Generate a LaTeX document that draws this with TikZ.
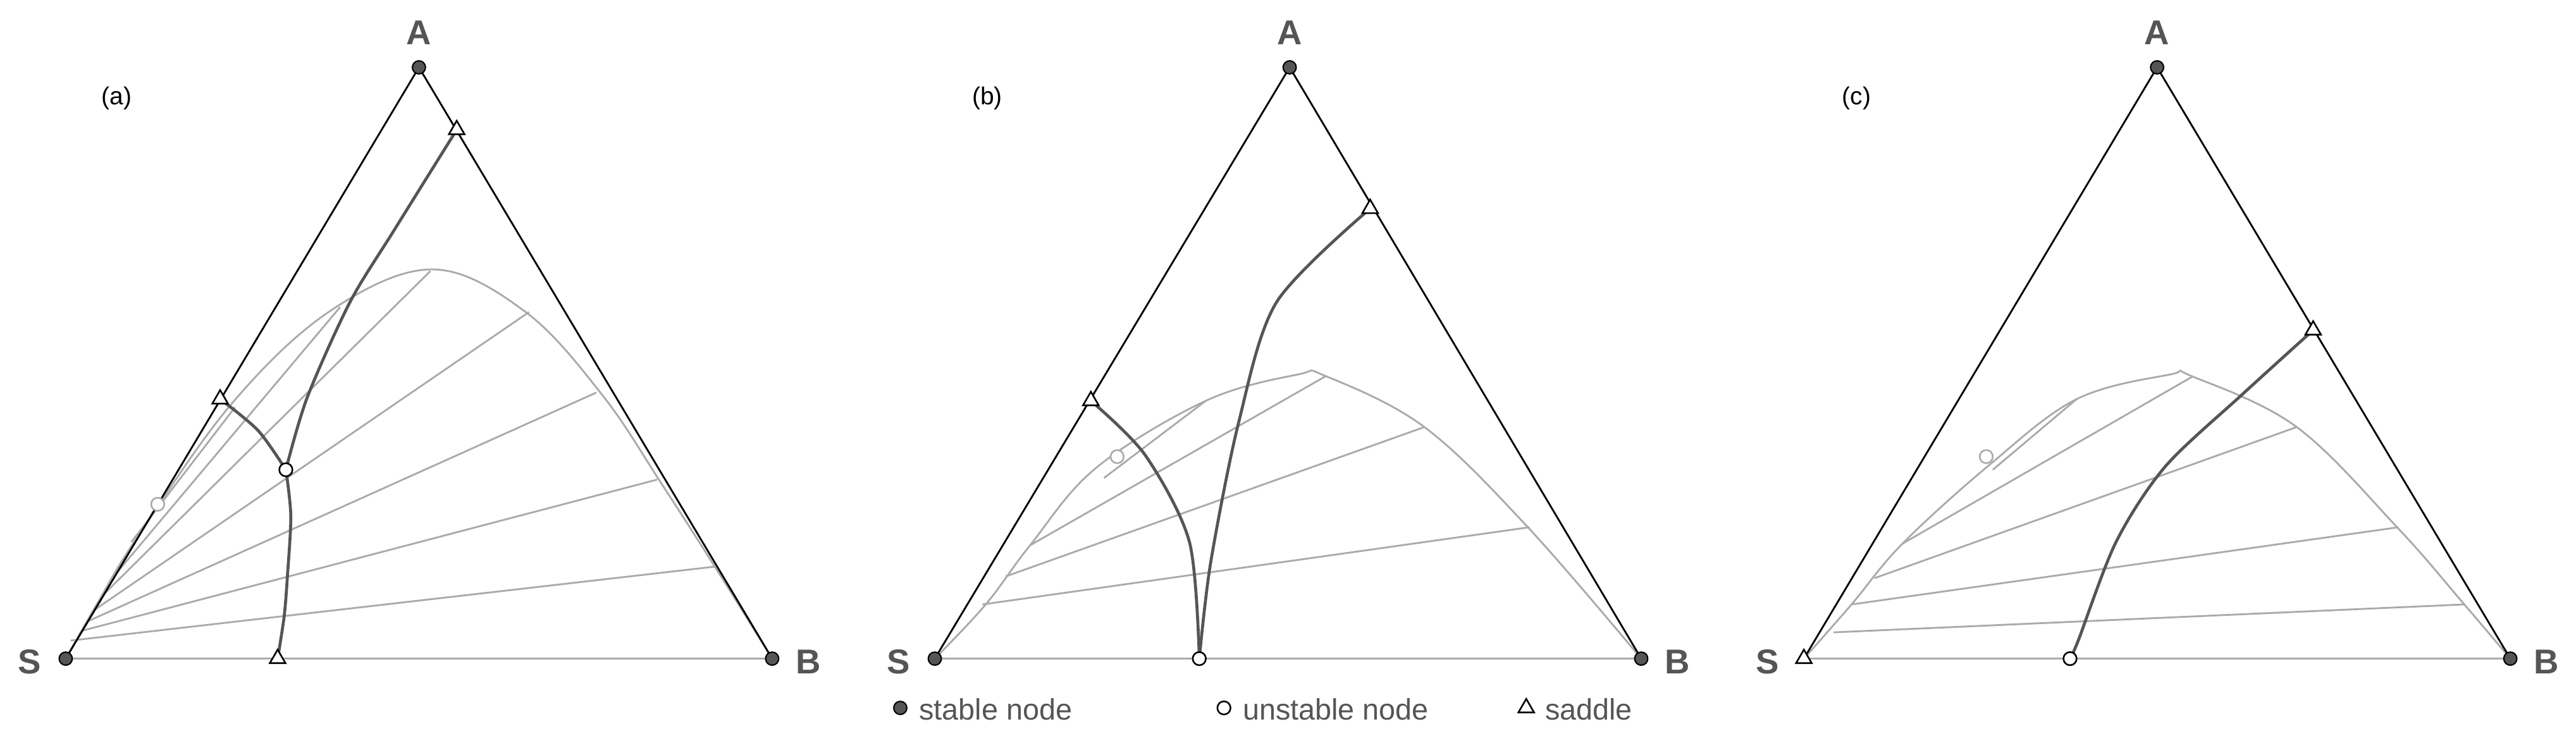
\documentclass[tikz,border=0pt]{standalone}
\usepackage{fontspec}
\setmainfont{Liberation Sans}
\usetikzlibrary{shapes.geometric}
\definecolor{dk}{HTML}{555555}
\definecolor{lg}{HTML}{AAAAAA}
\begin{document}
\begin{tikzpicture}[x=1pt,y=-1pt,
  edge/.style={black,line width=1.1pt},
  base/.style={lg,line width=1.1pt},
  bino/.style={lg,line width=1.1pt},
  tie/.style={lg,line width=1.1pt},
  sep/.style={dk,line width=1.8pt},
  stab/.style={circle,fill=dk,draw=black,line width=0.8pt,inner sep=0pt,minimum size=8pt},
  unst/.style={circle,fill=white,draw=black,line width=1pt,inner sep=0pt,minimum size=8pt},
  ghost/.style={circle,fill=white,draw=lg,line width=1pt,inner sep=0pt,minimum size=8pt},
  sad/.style={regular polygon,regular polygon sides=3,fill=white,draw=black,line width=1pt,inner sep=0pt,minimum size=11pt},
  vlab/.style={text=dk,font=\bfseries\fontsize{21}{21}\selectfont},
  plab/.style={font=\fontsize{15}{15}\selectfont},
  leg/.style={text=dk,font=\fontsize{18}{18}\selectfont,anchor=west}]
\useasboundingbox (0,0) rectangle (1568,448);
% ================= panel (a)
\coordinate (aA) at (255,41); \coordinate (aS) at (40,401); \coordinate (aB) at (470,401);
\coordinate (aSA) at (134,243); \coordinate (aAB) at (278,79); \coordinate (aSB) at (169,401);
\coordinate (aU) at (174,286); \coordinate (aG) at (96,307);
\draw[base] (aS) -- (aB);
\draw[bino] plot[smooth,tension=0.6] coordinates {(aS) (60,366) (83,328) (140,247) (200,190) (263,164) (320,190) (367,241) (403,295) (437,348) (aB)};
\draw[tie] (43,390) -- (435,345);
\draw[tie] (50,384) -- (400,292);
\draw[tie] (54,378) -- (363,239);
\draw[tie] (58,371) -- (322,190);
\draw[tie] (63,362) -- (262,165);
\draw[tie] (70,350) -- (207,187);
\draw[tie] (80,330) -- (143,248);
\draw[edge] (aS) -- (aA) -- (aB);
\draw[sep] plot[smooth] coordinates {(aAB) (240,140) (213,184) (187,242) (aU)};
\draw[sep] plot[smooth] coordinates {(aU) (177,314) (175,350) (173,375) (aSB)};
\draw[sep] plot[smooth] coordinates {(aSA) (157,262) (aU)};
\node[stab] (naA) at (aA) {}; \node[stab] (naS) at (aS) {}; \node[stab] (naB) at (aB) {};
\node[sad] (naSA) at (aSA) {}; \node[sad] (naAB) at (aAB) {}; \node[sad] (naSB) at (aSB) {};
\node[unst] (naU) at (aU) {}; \node[ghost] (naG) at (aG) {};
\node[vlab] (laA) at (255,20) {A}; \node[vlab] (laS) at (18,403) {S}; \node[vlab] (laB) at (492,403) {B};
\node[plab] (la) at (71,60) {(a)};
% ================= panel (b)
\coordinate (bA) at (785,41); \coordinate (bS) at (569,401); \coordinate (bB) at (999,401);
\coordinate (bSA) at (664,244); \coordinate (bAB) at (834,127); \coordinate (bU) at (730,401);
\coordinate (bG) at (680,278);
\draw[base] (bS) -- (bB);
\draw[bino] plot[smooth,tension=0.6] coordinates {(bS) (600,368) (627,332) (667,285) (734,244) (790,228) (807,229) (867,260) (930,321) (bB)};
\draw[tie] (598,368) -- (931,321);
\draw[tie] (612,351) -- (867,260);
\draw[tie] (627,332) -- (807,229);
\draw[tie] (672,291) -- (734,244);
\draw[edge] (bS) -- (bA) -- (bB);
\draw[sep] plot[smooth] coordinates {(bSA) (697,277) (724,330) (bU)};
\draw[sep] plot[smooth] coordinates {(bAB) (777,184) (754,257) (737,342) (bU)};
\node[stab] (nbA) at (bA) {}; \node[stab] (nbS) at (bS) {}; \node[stab] (nbB) at (bB) {};
\node[sad] (nbSA) at (bSA) {}; \node[sad] (nbAB) at (bAB) {};
\node[unst] (nbU) at (bU) {}; \node[ghost] (nbG) at (bG) {};
\node[vlab] (lbA) at (785,20) {A}; \node[vlab] (lbS) at (547,403) {S}; \node[vlab] (lbB) at (1021,403) {B};
\node[plab] (lb) at (601,60) {(b)};
% legend
\node[stab] (k1) at (548,431) {}; \node[leg] (t1) at (556,432) {stable node};
\node[unst] (k2) at (745,431) {}; \node[leg] (t2) at (753,432) {unstable node};
\node[sad] (k3) at (929,431) {}; \node[leg] (t3) at (937,432) {saddle};
% ================= panel (c)
\coordinate (cA) at (1313,41); \coordinate (cS) at (1098,401); \coordinate (cB) at (1528,401);
\coordinate (cAB) at (1408,201); \coordinate (cU) at (1260,401); \coordinate (cG) at (1209,278);
\draw[base] (cS) -- (cB);
\draw[bino] plot[smooth,tension=0.6] coordinates {(cS) (1127,368) (1158,331) (1211,283) (1264,243) (1321,228) (1334,229) (1398,260) (1460,322) (1500,368) (cB)};
\draw[tie] (1116,385) -- (1500,368);
\draw[tie] (1127,368) -- (1460,321);
\draw[tie] (1141,352) -- (1398,260);
\draw[tie] (1158,331) -- (1335,229);
\draw[tie] (1213,286) -- (1264,243);
\draw[edge] (cS) -- (cA) -- (cB);
\draw[sep] plot[smooth] coordinates {(cAB) (1365,240) (1318,284) (1288,330) (1265,390) (cU)};
\node[stab] (ncA) at (cA) {}; \node[sad] (ncS) at (cS) {}; \node[stab] (ncB) at (cB) {};
\node[sad] (ncAB) at (cAB) {};
\node[unst] (ncU) at (cU) {}; \node[ghost] (ncG) at (cG) {};
\node[vlab] (lcA) at (1313,20) {A}; \node[vlab] (lcS) at (1076,403) {S}; \node[vlab] (lcB) at (1550,403) {B};
\node[plab] (lc) at (1130,60) {(c)};
\end{tikzpicture}
\end{document}
